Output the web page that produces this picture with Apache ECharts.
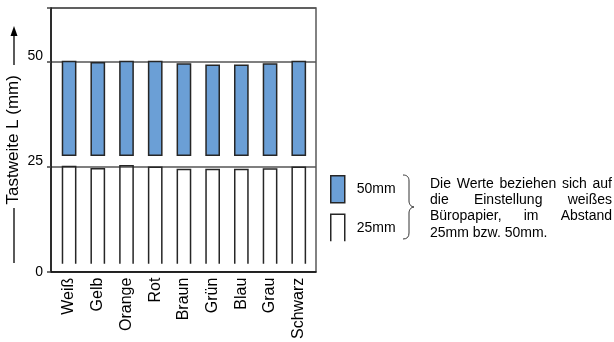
<!DOCTYPE html>
<html><head><meta charset="utf-8">
<script src="https://cdn.jsdelivr.net/npm/echarts@6/dist/echarts.min.js"></script>
<style>html,body{margin:0;padding:0;background:#fff}#c{width:614px;height:342px}</style>
</head><body><div id="c"></div>
<script>
const categories = ['Weiß','Gelb','Orange','Rot','Braun','Grün','Blau','Grau','Schwarz'];
const top50 = [50.0, 49.7, 50.0, 50.0, 49.4, 49.1, 49.1, 49.4, 50.0];
const top25 = [25.0, 24.5, 25.2, 24.8, 24.3, 24.3, 24.3, 24.4, 24.8];
const base50 = 27.7;
const base25 = 1.9;
const yTicks = [0, 25, 50];
const yMax = 62.7;
const legendNames = ['50mm', '25mm'];
const noteLines = ['Die Werte beziehen sich auf', 'die Einstellung weißes', 'Büropapier, im Abstand', '25mm bzw. 50mm.'];

const FONT = '"Liberation Sans", Arial, Helvetica, sans-serif';
const BLUE = '#6b9fd6';
const EDGE = '#262626';
const barRatio = 0.46;

const chart = echarts.init(document.getElementById('c'), null, {renderer: 'canvas'});

function blueItem(params, api) {
  const x = api.value(0), t = api.value(1), b = api.value(2);
  const p1 = api.coord([x, t]), p0 = api.coord([x, b]);
  const w = api.size([barRatio, 0])[0];
  return {type: 'rect', shape: {x: p1[0] - w / 2, y: p1[1], width: w, height: p0[1] - p1[1]},
    style: {fill: BLUE, stroke: EDGE, lineWidth: 1.5}};
}
function whiteItem(params, api) {
  const x = api.value(0), t = api.value(1), b = api.value(2);
  const p1 = api.coord([x, t]), p0 = api.coord([x, b]);
  const w = api.size([barRatio, 0])[0];
  const l = p1[0] - w / 2, r = p1[0] + w / 2;
  return {type: 'polyline', shape: {points: [[l, p0[1]], [l, p1[1]], [r, p1[1]], [r, p0[1]]]},
    style: {fill: null, stroke: EDGE, lineWidth: 1.5}};
}

// justified note text
const NOTE_SIZE = 14, NOTE_LEFT = 430, NOTE_RIGHT = 612, NOTE_TOP = 184, NOTE_LH = 16.3;
const mctx = document.createElement('canvas').getContext('2d');
mctx.font = NOTE_SIZE + 'px ' + FONT;
const graphics = [];
noteLines.forEach((line, li) => {
  const y = NOTE_TOP + li * NOTE_LH;
  const words = line.split(' ');
  const last = li === noteLines.length - 1;
  if (last || words.length < 2) {
    graphics.push({type: 'text', x: NOTE_LEFT, y: y,
      style: {text: line, font: NOTE_SIZE + 'px ' + FONT, fill: '#000', textVerticalAlign: 'middle'}});
    return;
  }
  const widths = words.map(w => mctx.measureText(w).width);
  const total = widths.reduce((a, b) => a + b, 0);
  const gap = (NOTE_RIGHT - NOTE_LEFT - total) / (words.length - 1);
  let x = NOTE_LEFT;
  words.forEach((w, i) => {
    graphics.push({type: 'text', x: x, y: y, style: {text: w, font: NOTE_SIZE + 'px ' + FONT, fill: '#000', textVerticalAlign: 'middle'}});
    x += widths[i] + gap;
  });
});
// brace
const braceStyle = {fill: null, stroke: '#333', lineWidth: 1};
graphics.push({type: 'bezierCurve', shape: {x1: 403, y1: 175, cpx1: 407, cpy1: 175, cpx2: 409, cpy2: 177, x2: 409, y2: 181}, style: braceStyle});
graphics.push({type: 'line', shape: {x1: 409, y1: 181, x2: 409, y2: 201}, style: braceStyle});
graphics.push({type: 'bezierCurve', shape: {x1: 409, y1: 201, cpx1: 409, cpy1: 204, cpx2: 411, cpy2: 207, x2: 414, y2: 207}, style: braceStyle});
graphics.push({type: 'bezierCurve', shape: {x1: 414, y1: 207, cpx1: 411, cpy1: 207, cpx2: 409, cpy2: 210, x2: 409, y2: 213}, style: braceStyle});
graphics.push({type: 'line', shape: {x1: 409, y1: 213, x2: 409, y2: 233}, style: braceStyle});
graphics.push({type: 'bezierCurve', shape: {x1: 409, y1: 233, cpx1: 409, cpy1: 237, cpx2: 407, cpy2: 239, x2: 403, y2: 239}, style: braceStyle});
// axis name arrow and line
graphics.push({type: 'line', shape: {x1: 14, y1: 65, x2: 14, y2: 34}, style: {stroke: '#000', lineWidth: 1.3}});
graphics.push({type: 'polygon', shape: {points: [[14, 26], [10.5, 36], [17.5, 36]]}, style: {fill: '#000'}});
graphics.push({type: 'line', shape: {x1: 14, y1: 208, x2: 14, y2: 263}, style: {stroke: '#000', lineWidth: 1.3}});

const option = {
  animation: false,
  backgroundColor: '#fff',
  textStyle: {fontFamily: FONT},
  grid: {left: 51, right: 298, top: 8, bottom: 70, show: true, borderColor: '#5a5a5a', borderWidth: 1.5, containLabel: false},
  xAxis: {
    type: 'value', min: -0.63, max: 8.6,
    splitLine: {show: false},
    axisTick: {show: false},
    axisLine: {show: true, onZero: false, lineStyle: {color: '#111', width: 1.5}},
    axisLabel: {
      customValues: categories.map((c, i) => i),
      rotate: 90, margin: 6, fontSize: 16, color: '#000', fontFamily: FONT,
      formatter: v => categories[Math.round(v)] || ''
    }
  },
  yAxis: {
    type: 'value', min: 0, max: yMax, interval: 25,
    name: 'Tastweite L (mm)', nameLocation: 'middle', nameGap: 29, nameRotate: 90,
    nameTextStyle: {fontSize: 17, color: '#000', fontFamily: FONT},
    axisLine: {show: true, onZero: false, lineStyle: {color: '#111', width: 1.5}},
    axisTick: {show: true, length: 4, lineStyle: {color: '#444', width: 1.5}},
    splitLine: {show: true, lineStyle: {color: '#555', width: 1.5}},
    axisLabel: {
      margin: 8, color: '#000', fontFamily: FONT, fontSize: 14,
      formatter: v => yTicks.indexOf(v) < 0 ? '' : (v === 0 ? '{c|' + v + '}' : '{u|' + v + '}'),
      rich: {c: {fontSize: 14, fontFamily: FONT}, u: {fontSize: 14, fontFamily: FONT, padding: [0, 0, 11, 0]}}
    }
  },
  legend: {
    orient: 'vertical', left: 330, top: 175, itemWidth: 14, itemHeight: 27, itemGap: 10, padding: 0,
    textStyle: {fontSize: 14, color: '#000', fontFamily: FONT, padding: [0, 0, 0, 7]},
    selectedMode: false,
    data: [
      {name: legendNames[0], icon: 'rect', itemStyle: {color: BLUE, borderColor: EDGE, borderWidth: 1.5}},
      {name: legendNames[1], icon: 'path://M0,27 L0,0 L14,0 L14,27', itemStyle: {color: 'rgba(0,0,0,0)', borderColor: EDGE, borderWidth: 1.5}}
    ]
  },
  series: [
    {type: 'custom', name: legendNames[0], renderItem: blueItem, encode: {x: 0, y: 1},
      itemStyle: {color: BLUE}, data: top50.map((v, i) => [i, v, base50])},
    {type: 'custom', name: legendNames[1], renderItem: whiteItem, encode: {x: 0, y: 1},
      itemStyle: {color: '#fff'}, data: top25.map((v, i) => [i, v, base25])}
  ],
  graphic: graphics
};
chart.setOption(option);
</script>
</body></html>
